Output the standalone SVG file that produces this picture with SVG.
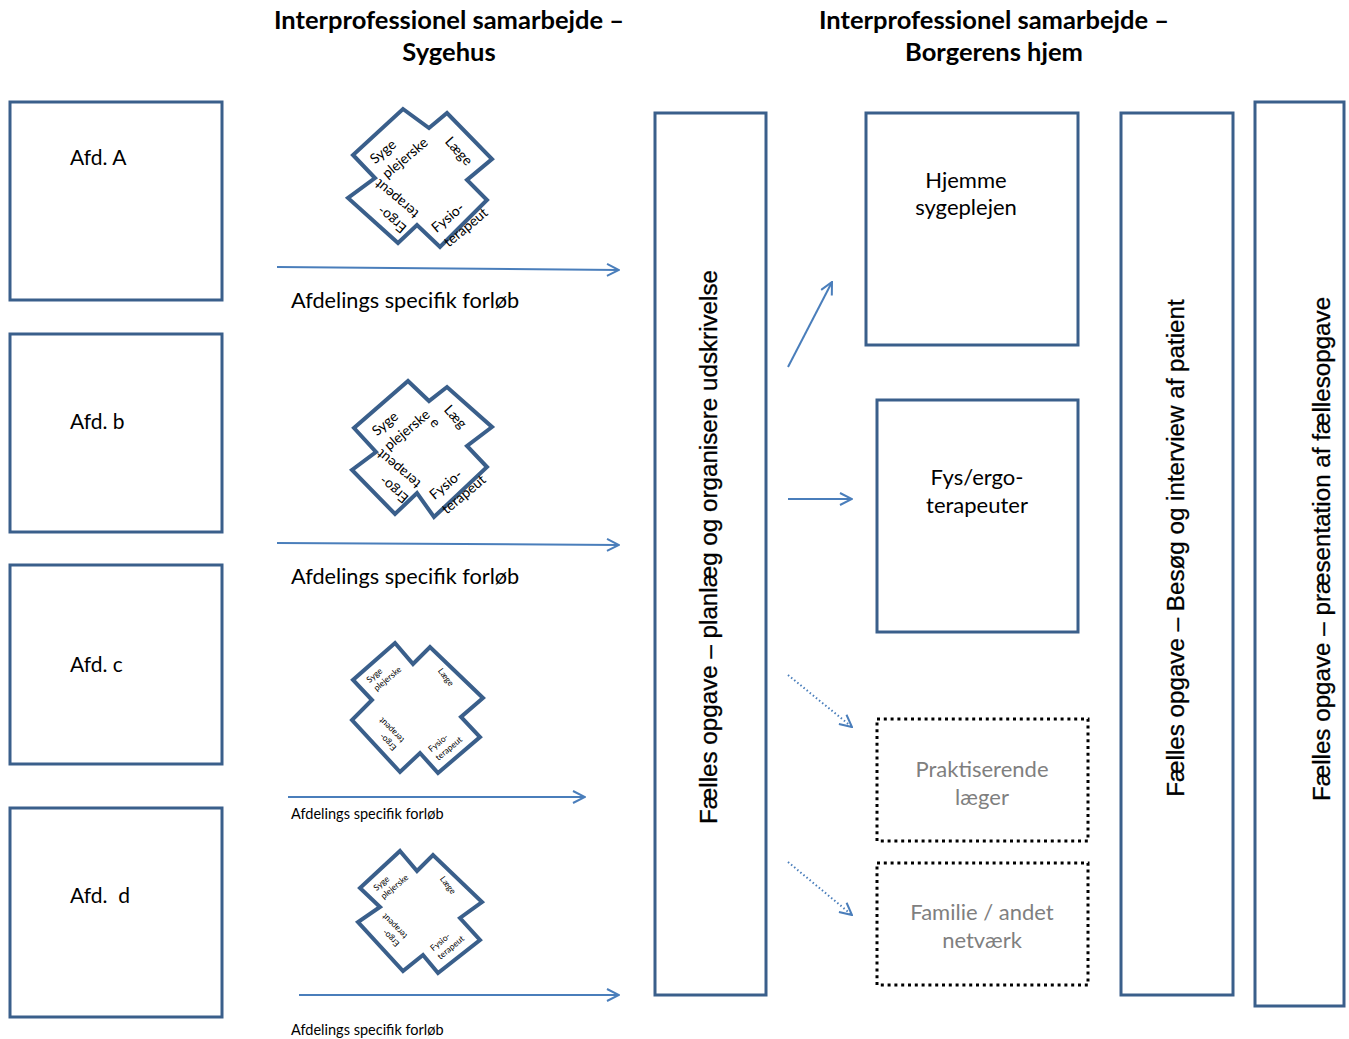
<svg xmlns="http://www.w3.org/2000/svg" width="1349" height="1039" viewBox="0 0 1349 1039">
<style>
.box{fill:#fff;stroke:#3a5f8b;stroke-width:3}
.dot{fill:#fff;stroke:#000;stroke-width:3;stroke-dasharray:3 3.8}
.cross{fill:#fff;stroke:#3a5f8b;stroke-width:4;stroke-linejoin:miter}
.t{font-family:Lato,"Liberation Sans",sans-serif;fill:#000}
.title{font-family:Lato,"Liberation Sans",sans-serif;font-weight:bold;font-size:25.5px;fill:#000;text-anchor:middle}
.lbl{font-size:21px}
.lbr{font-size:22px}
.flow{font-size:21.7px}
.flows{font-size:14.5px}
.gray{fill:#7f7f7f}
.mid{text-anchor:middle}
.v{font-family:"Liberation Sans",Arial,sans-serif;font-size:24.2px;fill:#000;text-anchor:middle;stroke:#000;stroke-width:0.3}
.cb{font-family:Lato,"Liberation Sans",sans-serif;font-size:14px;fill:#000}
.cs{font-family:Lato,"Liberation Sans",sans-serif;font-size:8.5px;fill:#000}
.arr{fill:none;stroke:#4a7ebb;stroke-width:2;marker-end:url(#ah)}
.arrd{fill:none;stroke:#4a7ebb;stroke-width:2;stroke-dasharray:1.5 2.5;marker-end:url(#ah)}
</style>
<defs>
<marker id="ah" viewBox="0 0 14 14" refX="13" refY="7" markerWidth="14" markerHeight="14" markerUnits="userSpaceOnUse" orient="auto">
<path d="M1,1 L13,7 L1,13" fill="none" stroke="#4a7ebb" stroke-width="2"/>
</marker>
</defs>
<rect width="1349" height="1039" fill="#fff"/>

<g id="titles">
<text class="title" x="449" y="29">Interprofessionel samarbejde –</text>
<text class="title" x="449" y="61">Sygehus</text>
<text class="title" x="994" y="29">Interprofessionel samarbejde –</text>
<text class="title" x="994" y="61">Borgerens hjem</text>
</g>

<g id="afd-a"><rect class="box" x="10" y="102" width="212" height="198"/><text class="t lbl" x="70" y="165">Afd. A</text></g>
<g id="afd-b"><rect class="box" x="10" y="334" width="212" height="198"/><text class="t lbl" x="70" y="429">Afd. b</text></g>
<g id="afd-c"><rect class="box" x="10" y="565" width="212" height="199"/><text class="t lbl" x="70" y="672">Afd. c</text></g>
<g id="afd-d"><rect class="box" x="10" y="808" width="212" height="209"/><text class="t lbl" x="70" y="903" xml:space="preserve">Afd.  d</text></g>

<g id="team-a">
<polygon class="cross" points="403,109 429,128 447,113 492,159 467,180 487,200 440,247 417,225 398,243 348,198 375,178 353,155"/>
<g transform="translate(407,156) rotate(-40)"><text class="cb" x="-30" y="-14">Syge</text><text class="cb" x="-30" y="5">plejerske</text></g>
<g transform="translate(459,151) rotate(48)"><text class="cb mid" x="0" y="5">Læge</text></g>
<g transform="translate(467,226) rotate(-40)"><text class="cb" x="-28" y="-14">Fysio-</text><text class="cb" x="-28" y="5">terapeut</text></g>
<g transform="translate(395,198) rotate(220)"><text class="cb" x="-28" y="-14">Ergo-</text><text class="cb" x="-28" y="5">terapeut</text></g>
</g>

<g id="team-b">
<polygon class="cross" points="408,381 429,401 447,387 492,427 467,446 487,467 434,517 417,493 395,514 352,470 376,452 354,428"/>
<g transform="translate(409,428) rotate(-40)"><text class="cb" x="-30" y="-14">Syge</text><text class="cb" x="-30" y="5">plejerske</text></g>
<g transform="translate(447,407) rotate(48)"><text class="cb" x="0" y="5">Læg</text><text class="cb" x="0" y="24">e</text></g>
<g transform="translate(465,493) rotate(-40)"><text class="cb" x="-28" y="-14">Fysio-</text><text class="cb" x="-28" y="5">terapeut</text></g>
<g transform="translate(397,468) rotate(220)"><text class="cb" x="-28" y="-14">Ergo-</text><text class="cb" x="-28" y="5">terapeut</text></g>
</g>

<g id="team-c">
<polygon class="cross" points="395,643 413,664 430,647 483,698 461,717 480,737 438,773 420,753 400,772 352,720 372,700 353,680"/>
<g transform="translate(387,679) rotate(-40)"><text class="cs" x="-16" y="-8">Syge</text><text class="cs" x="-16" y="3">plejerske</text></g>
<g transform="translate(446,677) rotate(52)"><text class="cs mid" x="0" y="3">Læge</text></g>
<g transform="translate(448,749) rotate(-40)"><text class="cs" x="-15" y="-8">Fysio-</text><text class="cs" x="-15" y="3">terapeut</text></g>
<g transform="translate(392,731) rotate(225)"><text class="cs" x="-15" y="-8">Ergo-</text><text class="cs" x="-15" y="3">terapeut</text></g>
</g>

<g id="team-d">
<polygon class="cross" points="400,851 417,871 433,855 482,902 460,918 480,940 438,973 423,955 403,971 358,922 380,907 360,888"/>
<g transform="translate(394,887) rotate(-40)"><text class="cs" x="-16" y="-8">Syge</text><text class="cs" x="-16" y="3">plejerske</text></g>
<g transform="translate(448,885) rotate(52)"><text class="cs mid" x="0" y="3">Læge</text></g>
<g transform="translate(450,948) rotate(-40)"><text class="cs" x="-15" y="-8">Fysio-</text><text class="cs" x="-15" y="3">terapeut</text></g>
<g transform="translate(395,927) rotate(225)"><text class="cs" x="-15" y="-8">Ergo-</text><text class="cs" x="-15" y="3">terapeut</text></g>
</g>

<g id="flow-labels">
<text class="t flow" x="291" y="308">Afdelings specifik forløb</text>
<text class="t flow" x="291" y="584">Afdelings specifik forløb</text>
<text class="t flows" x="291" y="819">Afdelings specifik forløb</text>
<text class="t flows" x="291" y="1035">Afdelings specifik forløb</text>
</g>

<g id="udskrivelse"><rect class="box" x="655" y="113" width="111" height="882"/><text class="v" transform="translate(717,547) rotate(-90)">Fælles opgave – planlæg og organisere udskrivelse</text></g>

<g id="hjemmesygeplejen"><rect class="box" x="866" y="113" width="212" height="232"/><text class="t lbr mid" x="966" y="188">Hjemme</text><text class="t lbr mid" x="966" y="215">sygeplejen</text></g>
<g id="fysergo"><rect class="box" x="877" y="400" width="201" height="232"/><text class="t lbr mid" x="977" y="485">Fys/ergo-</text><text class="t lbr mid" x="977" y="513">terapeuter</text></g>
<g id="praktiserende"><rect class="dot" x="877" y="719" width="211" height="122"/><text class="t lbr mid gray" x="982" y="777">Praktiserende</text><text class="t lbr mid gray" x="982" y="805">læger</text></g>
<g id="familie"><rect class="dot" x="877" y="863" width="211" height="122"/><text class="t lbr mid gray" x="982" y="920">Familie / andet</text><text class="t lbr mid gray" x="982" y="948">netværk</text></g>

<g id="besoeg"><rect class="box" x="1121" y="113" width="112" height="882"/><text class="v" transform="translate(1184,548) rotate(-90)">Fælles opgave – Besøg og interview af patient</text></g>
<g id="praesentation"><rect class="box" x="1255" y="102" width="89" height="904"/><text class="v" transform="translate(1330,549) rotate(-90)">Fælles opgave – præsentation af fællesopgave</text></g>

<g id="connectors">
<path class="arr" d="M277,267 L619,270"/>
<path class="arr" d="M277,543 L619,545"/>
<path class="arr" d="M288,797 L585,797"/>
<path class="arr" d="M299,995 L619,995"/>
<path class="arr" d="M788,367 L832,282"/>
<path class="arr" d="M788,499 L852,499"/>
<path class="arrd" d="M788,675 L852,727"/>
<path class="arrd" d="M788,862 L852,915"/>
</g>
</svg>
